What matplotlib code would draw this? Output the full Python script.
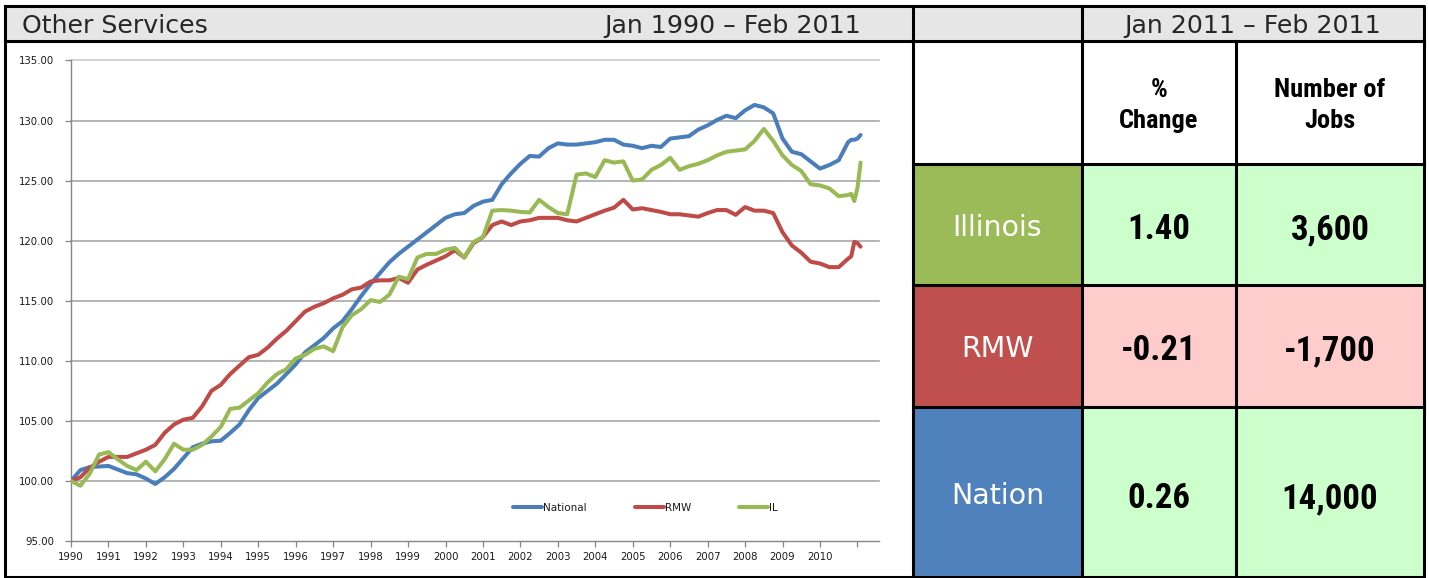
import matplotlib
matplotlib.use("Agg")
import matplotlib.pyplot as plt
from matplotlib import font_manager as fm
from matplotlib.patches import Rectangle

# ---------------- data ----------------
# month index from Jan 1990 (quarterly samples, then monthly at the end)
months = list(range(0, 250, 3)) + [250, 251, 252, 253]

national = [
    100.0, 100.9, 101.15, 101.2,
    101.25, 100.95, 100.65, 100.55,
    100.2, 99.75, 100.3, 101.0,
    101.9, 102.8, 103.1, 103.3,
    103.35, 104.0, 104.7, 105.9,
    106.9, 107.5, 108.1, 108.9,
    109.7, 110.7, 111.3, 111.9,
    112.7, 113.3, 114.3, 115.4,
    116.4, 117.3, 118.2, 118.9,
    119.5, 120.1, 120.7, 121.3,
    121.9, 122.2, 122.3, 122.9,
    123.25, 123.4, 124.7, 125.6,
    126.4, 127.05, 127.0, 127.7,
    128.1, 128.0, 128.0, 128.1,
    128.2, 128.4, 128.4, 128.0,
    127.9, 127.7, 127.9, 127.8,
    128.5, 128.6, 128.7, 129.25,
    129.6, 130.05, 130.4, 130.2,
    130.85, 131.3, 131.1, 130.6,
    128.5, 127.4, 127.2, 126.6,
    126.0, 126.3, 126.7, 128.2,
    128.4, 128.4, 128.5, 128.8,
]

rmw = [
    100.0, 100.3, 101.1, 101.6,
    102.0, 102.0, 102.0, 102.3,
    102.6, 103.0, 104.0, 104.7,
    105.1, 105.25, 106.2, 107.5,
    108.0, 108.9, 109.6, 110.3,
    110.5, 111.1, 111.85, 112.5,
    113.3, 114.1, 114.5, 114.8,
    115.2, 115.5, 115.95, 116.1,
    116.6, 116.7, 116.7, 116.9,
    116.5, 117.6, 118.0, 118.35,
    118.7, 119.2, 118.6, 119.8,
    120.3, 121.3, 121.6, 121.3,
    121.6, 121.7, 121.9, 121.9,
    121.9, 121.7, 121.6, 121.9,
    122.2, 122.5, 122.75, 123.4,
    122.6, 122.7, 122.55, 122.4,
    122.2, 122.2, 122.1, 122.0,
    122.3, 122.55, 122.55, 122.15,
    122.8, 122.5, 122.5, 122.3,
    120.7, 119.6, 119.0, 118.25,
    118.1, 117.8, 117.8, 118.5,
    118.7, 119.9, 119.8, 119.5,
]

il = [
    100.0, 99.6, 100.6, 102.2,
    102.4, 101.8, 101.25, 100.9,
    101.6, 100.8, 101.8, 103.1,
    102.6, 102.6, 103.0, 103.7,
    104.5, 106.0, 106.1, 106.7,
    107.3, 108.2, 108.9, 109.3,
    110.2, 110.5, 111.0, 111.2,
    110.8, 112.8, 113.8, 114.3,
    115.05, 114.9, 115.5, 117.0,
    116.8, 118.6, 118.9, 118.9,
    119.25, 119.4, 118.6, 119.9,
    120.3, 122.5, 122.55, 122.5,
    122.4, 122.35, 123.4, 122.8,
    122.3, 122.2, 125.5, 125.6,
    125.3, 126.7, 126.5, 126.6,
    125.0, 125.1, 125.9, 126.3,
    126.9, 125.9, 126.2, 126.4,
    126.7, 127.1, 127.4, 127.5,
    127.6, 128.3, 129.3, 128.3,
    127.1, 126.3, 125.8, 124.7,
    124.6, 124.35, 123.7, 123.8,
    123.9, 123.3, 124.4, 126.5,
]

series_names = ["National", "RMW", "IL"]
year_ticks = list(range(1990, 2012))
year_labels = [str(y) for y in range(1990, 2011)] + [""]
y_ticks = [95, 100, 105, 110, 115, 120, 125, 130, 135]

title_left = "Other Services"
title_range = "Jan 1990 \u2013 Feb 2011"
table_range = "Jan 2011 \u2013 Feb 2011"
col_headers = [("%", "Change"), ("Number of", "Jobs")]
row_labels = ["Illinois", "RMW", "Nation"]
pct_change = ["1.40", "-0.21", "0.26"]
num_jobs = ["3,600", "-1,700", "14,000"]

# ---------------- style ----------------
C_NAT = "#4a7ebb"
C_RMW = "#be4b48"
C_IL = "#98b954"
LBL_BG = ["#9bbb59", "#c0504d", "#4f81bd"]
VAL_BG = ["#ccffcc", "#ffcccc", "#ccffcc"]
HEAD_BG = "#e6e6e6"


def pick_narrow_bold():
    cands = []
    for f in fm.fontManager.ttflist:
        w = f.weight
        try:
            w = int(w)
        except Exception:
            w = 700 if str(w).lower() in ("bold", "heavy", "black", "demibold", "semibold") else 400
        cands.append((f.name, str(f.stretch), w, f.fname))
    for name in ["Liberation Sans Narrow", "Arial Narrow", "Roboto Condensed",
                 "Open Sans Condensed", "Noto Sans Condensed", "DejaVu Sans Condensed"]:
        for n, s, w, fn in cands:
            if n == name and w >= 700:
                return fm.FontProperties(fname=fn)
    for n, s, w, fn in cands:
        if "condensed" in s and w >= 700:
            return fm.FontProperties(fname=fn)
    return fm.FontProperties(family="Liberation Sans", weight="bold")


NARROW = pick_narrow_bold()

W, H = 1429, 578
fig = plt.figure(figsize=(W / 100, H / 100), dpi=100)
fig.patch.set_facecolor("white")

bg = fig.add_axes([0, 0, 1, 1])
bg.set_xlim(0, W)
bg.set_ylim(H, 0)
bg.axis("off")

X0, XS, XC1, XC2, XR = 5.5, 913, 1082, 1236, 1424
Y0, YH, YR = 5.5, 41, [164, 285, 407, 576.5]

# header band
bg.add_patch(Rectangle((X0, Y0), XR - X0, YH - Y0, facecolor=HEAD_BG, edgecolor="none"))
# table cells
for i in range(3):
    y1, y2 = YR[i], YR[i + 1]
    bg.add_patch(Rectangle((XS, y1), XC1 - XS, y2 - y1, facecolor=LBL_BG[i], edgecolor="none"))
    bg.add_patch(Rectangle((XC1, y1), XR - XC1, y2 - y1, facecolor=VAL_BG[i], edgecolor="none"))

LW = 2.2
k = dict(color="black", lw=LW, solid_capstyle="projecting")
bg.plot([X0, XR, XR, X0, X0], [Y0, Y0, YR[-1], YR[-1], Y0], **k)
bg.plot([X0, XR], [YH, YH], **k)
bg.plot([XS, XS], [Y0, YR[-1]], **k)
bg.plot([XC1, XC1], [Y0, YR[-1]], **k)
bg.plot([XC2, XC2], [YH, YR[-1]], **k)
for y in YR[:-1]:
    bg.plot([XS, XR], [y, y], **k)

# header texts
HFS = 18.2
bg.text(22, 33, title_left, fontsize=HFS, color="#262626", family="DejaVu Sans", va="baseline", ha="left")
bg.text(861, 33, title_range, fontsize=HFS, color="#262626", family="DejaVu Sans", va="baseline", ha="right")
bg.text((XC1 + XR) / 2, 33.5, table_range, fontsize=HFS, color="#262626", family="DejaVu Sans",
        va="baseline", ha="center")

# column headers
for (l1, l2), cx in zip(col_headers, [(XC1 + XC2) / 2, (XC2 + XR) / 2]):
    bg.text(cx, 97, l1, fontproperties=NARROW, fontsize=19, ha="center", va="baseline", color="black")
    bg.text(cx, 128, l2, fontproperties=NARROW, fontsize=19, ha="center", va="baseline", color="black")

# row labels and values
lbl_base = [236, 357, 504]
val_base = [239, 360, 508]
for i in range(3):
    bg.text((XS + XC1) / 2, lbl_base[i], row_labels[i], fontsize=20.5, color="white",
            family="DejaVu Sans", ha="center", va="baseline")
    bg.text((XC1 + XC2) / 2, val_base[i], pct_change[i], fontproperties=NARROW, fontsize=25,
            ha="center", va="baseline", color="black")
    bg.text((XC2 + XR) / 2, val_base[i], num_jobs[i], fontproperties=NARROW, fontsize=25,
            ha="center", va="baseline", color="black")

# ---------------- chart ----------------
ax_l, ax_r, ax_t, ax_b = 71, 879, 60.5, 541
ax = fig.add_axes([ax_l / W, (H - ax_b) / H, (ax_r - ax_l) / W, (ax_b - ax_t) / H])
ax.set_facecolor("none")
px_per_year = 37.45
ax.set_xlim(1990, 1990 + (ax_r - ax_l) / px_per_year)
ax.set_ylim(95, 135)

years = [1990 + m / 12 for m in months]

for v in y_ticks[1:]:
    ax.axhline(v, color="#c8c8c8" if v == 135 else "#a0a0a0", lw=1.1, zorder=0, clip_on=False)

for vals, col, name in zip([national, rmw, il], [C_NAT, C_RMW, C_IL], series_names):
    ax.plot(years, vals, color=col, lw=2.9, solid_joinstyle="round", solid_capstyle="round",
            label=name, zorder=3)

for s in ["top", "right"]:
    ax.spines[s].set_visible(False)
for s in ["left", "bottom"]:
    ax.spines[s].set_color("#868686")
    ax.spines[s].set_linewidth(1.0)

ax.set_yticks(y_ticks)
ax.set_yticklabels([f"{v:.2f}" for v in y_ticks])
ax.set_xticks(year_ticks)
ax.set_xticklabels(year_labels)
ax.tick_params(axis="both", direction="out", length=4, width=0.9, color="#868686",
               labelsize=7.3, labelcolor="#1a1a1a")
ax.tick_params(axis="y", pad=8)
ax.tick_params(axis="x", pad=4)

leg = ax.legend(ncol=3, loc="center", bbox_to_anchor=(0.711, 0.0686), frameon=False,
                handlelength=2.8, handletextpad=0.1, columnspacing=4.6, fontsize=7.5)
for t in leg.get_texts():
    t.set_color("#1a1a1a")

fig.savefig("out.png", dpi=100, facecolor="white")
